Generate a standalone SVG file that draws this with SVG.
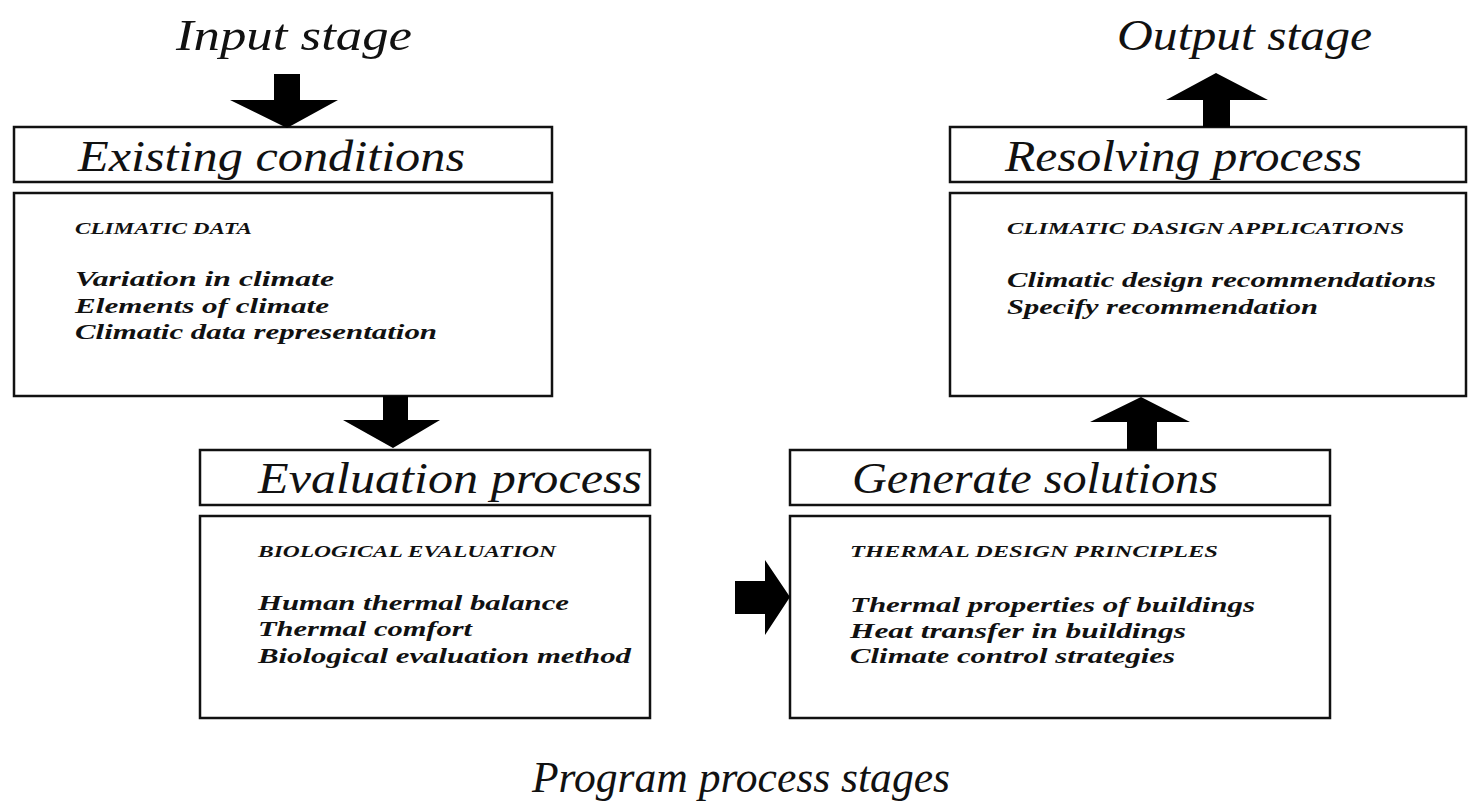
<svg xmlns="http://www.w3.org/2000/svg" width="1468" height="808" viewBox="0 0 1468 808">
<style>
.box{fill:#fff;stroke:#111;stroke-width:2.5}
.title{font-family:"Liberation Serif",serif;font-style:italic;font-size:44px;fill:#111}
.head{font-family:"Liberation Serif",serif;font-style:italic;font-size:45px;fill:#111}
.cap{font-family:"Liberation Serif",serif;font-style:italic;font-weight:bold;font-size:17px;fill:#111}
.item{font-family:"Liberation Serif",serif;font-style:italic;font-weight:bold;font-size:20px;fill:#111}
.arrow{fill:#000}
</style>
<rect width="1468" height="808" fill="#fff"/>
<text class="title" x="176" y="50" textLength="236" lengthAdjust="spacingAndGlyphs">Input stage</text>
<text class="title" x="1117" y="50" textLength="255" lengthAdjust="spacingAndGlyphs">Output stage</text>
<text class="title" x="532" y="792" textLength="418" lengthAdjust="spacingAndGlyphs">Program process stages</text>

<g id="existing">
<rect class="box" x="14" y="127" width="538" height="55"/>
<text class="head" x="78" y="171" textLength="387" lengthAdjust="spacingAndGlyphs">Existing conditions</text>
<rect class="box" x="14" y="193" width="538" height="203"/>
<text class="cap" x="75" y="234" textLength="177" lengthAdjust="spacingAndGlyphs">CLIMATIC DATA</text>
<text class="item" x="75" y="286" textLength="259" lengthAdjust="spacingAndGlyphs">Variation in climate</text>
<text class="item" x="75" y="313" textLength="254" lengthAdjust="spacingAndGlyphs">Elements of climate</text>
<text class="item" x="75" y="339" textLength="362" lengthAdjust="spacingAndGlyphs">Climatic data representation</text>
</g>

<g id="resolving">
<rect class="box" x="950" y="127" width="516" height="55"/>
<text class="head" x="1005" y="171" textLength="357" lengthAdjust="spacingAndGlyphs">Resolving process</text>
<rect class="box" x="950" y="193" width="516" height="203"/>
<text class="cap" x="1007" y="234" textLength="397" lengthAdjust="spacingAndGlyphs">CLIMATIC DASIGN APPLICATIONS</text>
<text class="item" x="1007" y="287" textLength="429" lengthAdjust="spacingAndGlyphs">Climatic design recommendations</text>
<text class="item" x="1007" y="314" textLength="311" lengthAdjust="spacingAndGlyphs">Specify recommendation</text>
</g>

<g id="evaluation">
<rect class="box" x="200" y="450" width="450" height="55"/>
<text class="head" x="258" y="493" textLength="384" lengthAdjust="spacingAndGlyphs">Evaluation process</text>
<rect class="box" x="200" y="516" width="450" height="202"/>
<text class="cap" x="258" y="557" textLength="298" lengthAdjust="spacingAndGlyphs">BIOLOGICAL EVALUATION</text>
<text class="item" x="258" y="610" textLength="311" lengthAdjust="spacingAndGlyphs">Human thermal balance</text>
<text class="item" x="258" y="636" textLength="214" lengthAdjust="spacingAndGlyphs">Thermal comfort</text>
<text class="item" x="258" y="663" textLength="373" lengthAdjust="spacingAndGlyphs">Biological evaluation method</text>
</g>

<g id="generate">
<rect class="box" x="790" y="450" width="540" height="55"/>
<text class="head" x="852" y="493" textLength="366" lengthAdjust="spacingAndGlyphs">Generate solutions</text>
<rect class="box" x="790" y="516" width="540" height="202"/>
<text class="cap" x="850" y="557" textLength="368" lengthAdjust="spacingAndGlyphs">THERMAL DESIGN PRINCIPLES</text>
<text class="item" x="850" y="612" textLength="405" lengthAdjust="spacingAndGlyphs">Thermal properties of buildings</text>
<text class="item" x="850" y="638" textLength="336" lengthAdjust="spacingAndGlyphs">Heat transfer in buildings</text>
<text class="item" x="850" y="663" textLength="325" lengthAdjust="spacingAndGlyphs">Climate control strategies</text>
</g>

<g id="connectors">
<polygon class="arrow" points="274,74 300,74 300,100 338,100 287,128 230,100 274,100"/>
<polygon class="arrow" points="383,396 408,396 408,420 440,420 393,448 343,420 383,420"/>
<polygon class="arrow" points="735,581 765,581 765,560 790,597 765,635 765,614 735,614"/>
<polygon class="arrow" points="1127,450 1157,450 1157,422 1190,422 1141,397 1090,422 1127,422"/>
<polygon class="arrow" points="1203,127 1230,127 1230,100 1268,100 1216,73 1166,100 1203,100"/>
</g>
</svg>
